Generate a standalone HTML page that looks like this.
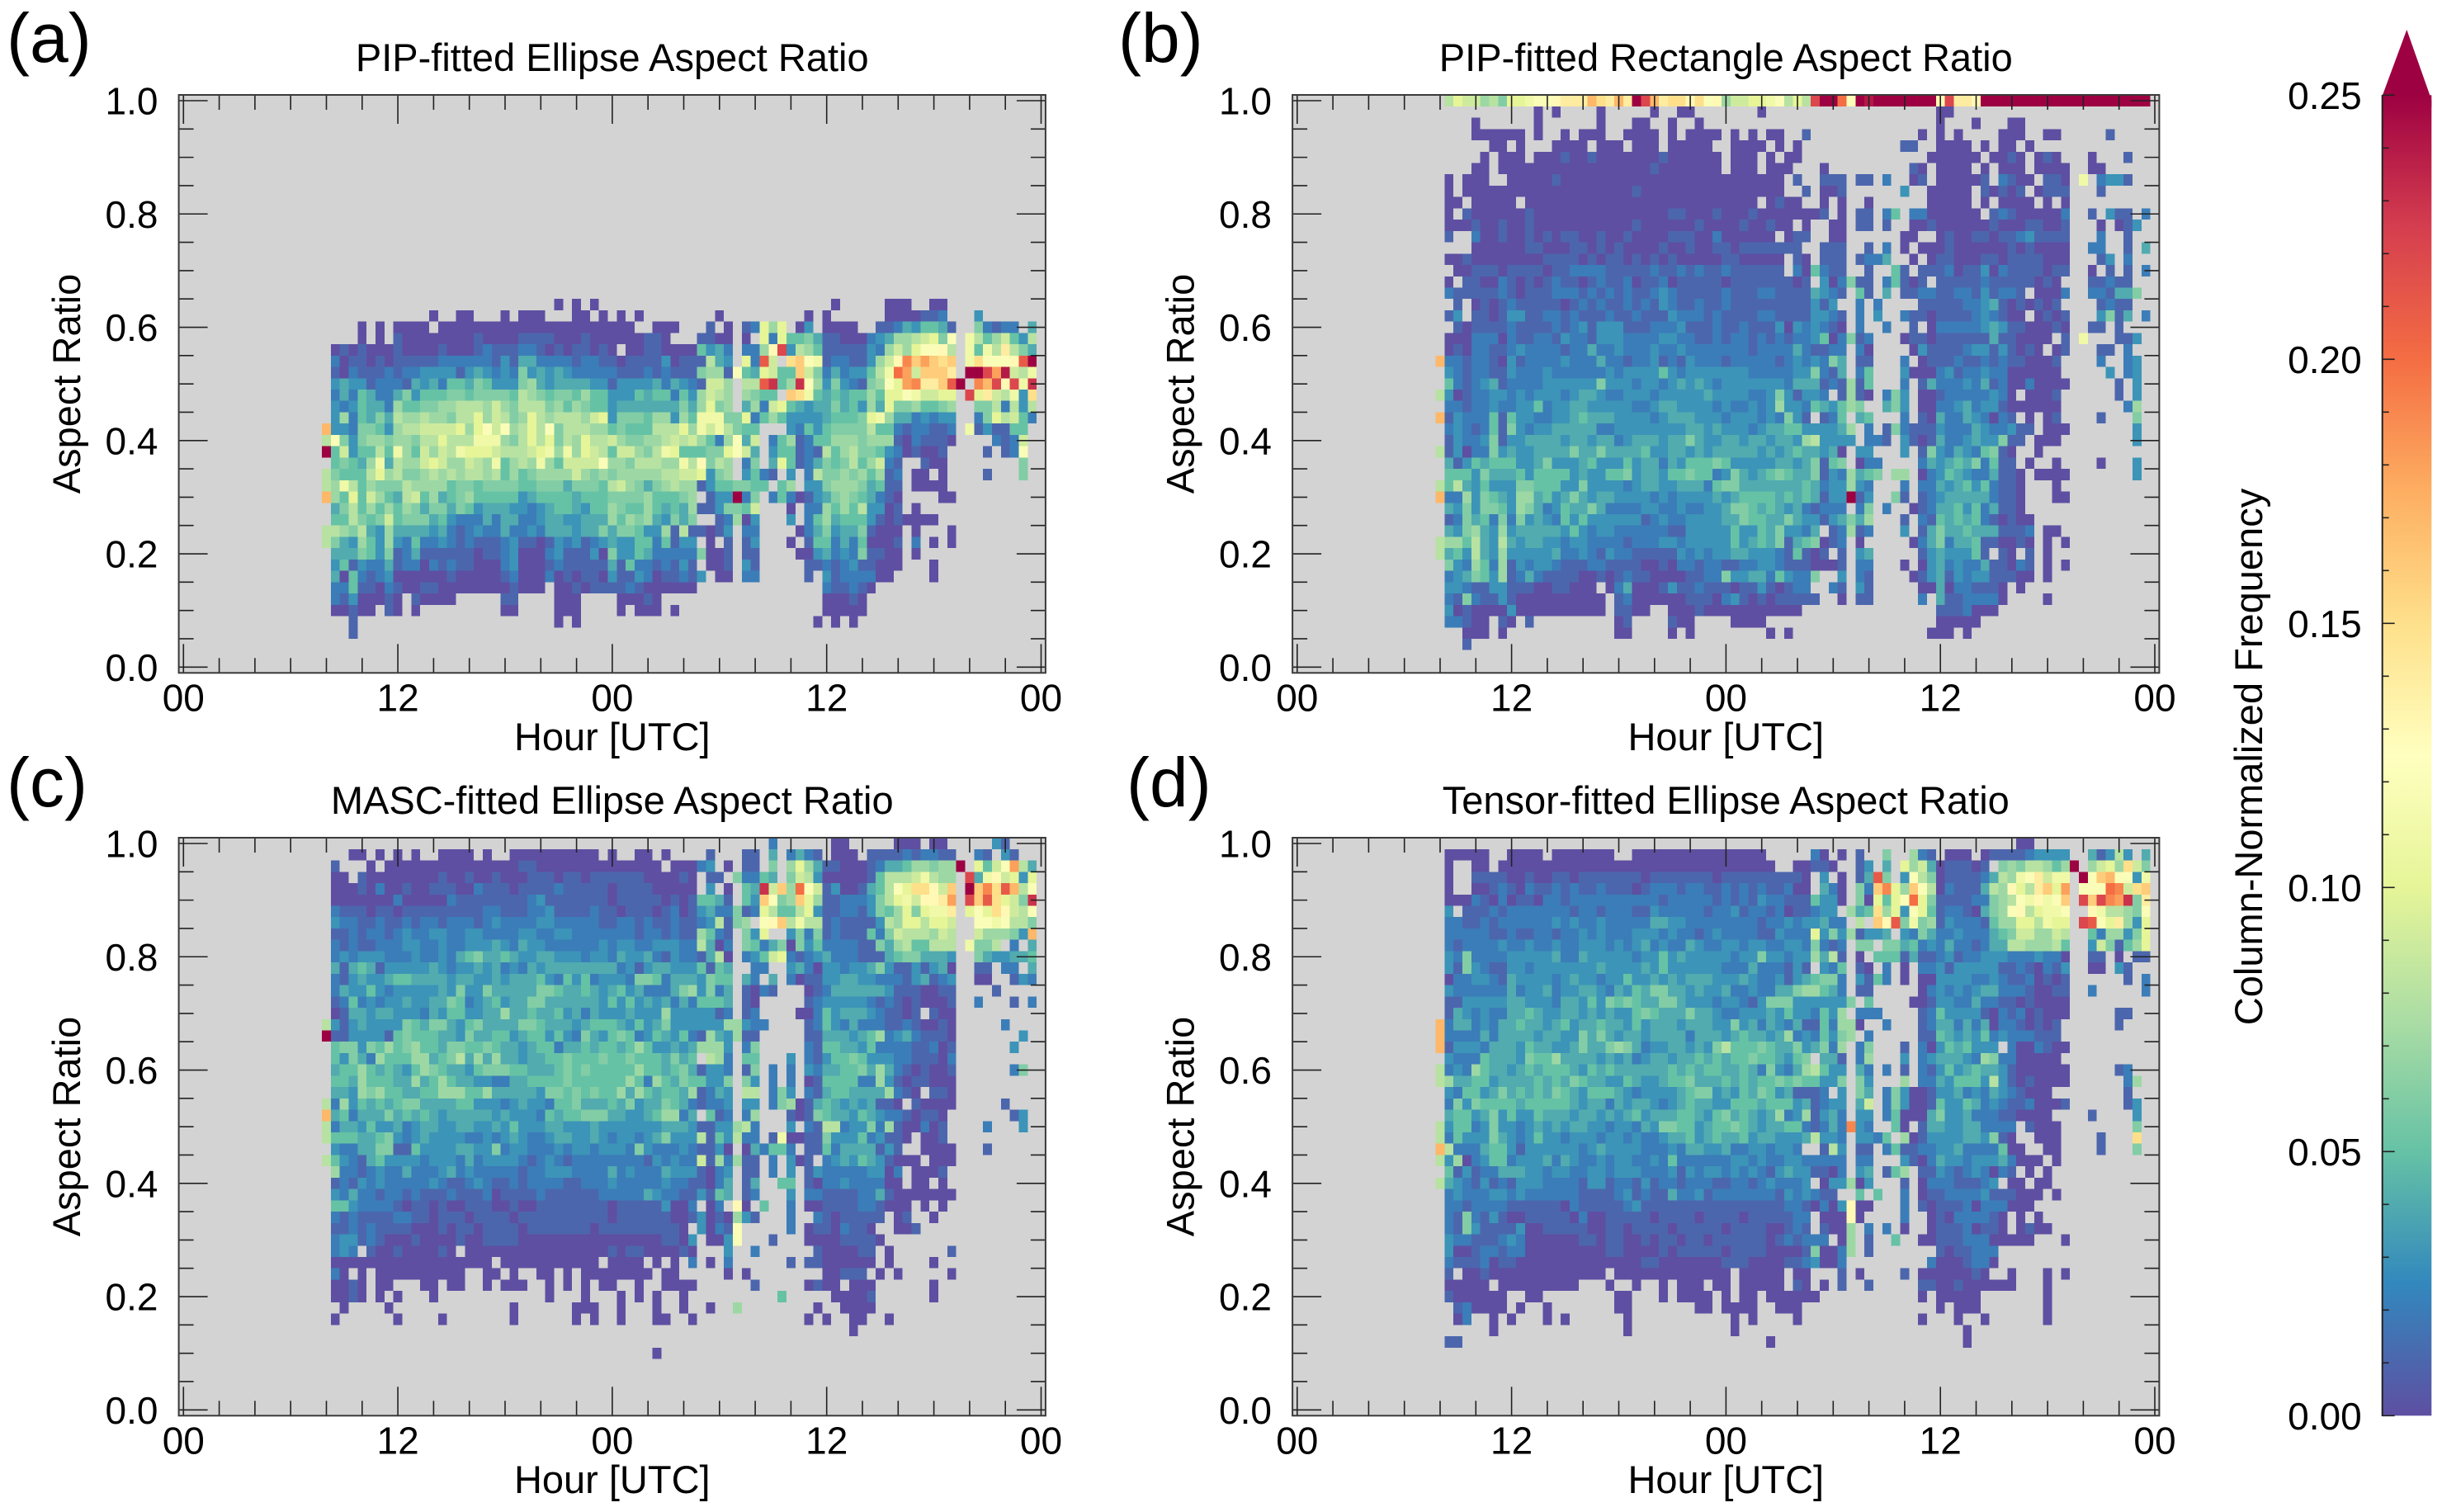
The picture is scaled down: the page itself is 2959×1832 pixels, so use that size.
<!DOCTYPE html>
<html lang="en">
<head>
<meta charset="utf-8">
<title>Aspect Ratio Frequency Panels</title>
<style>
html,body{margin:0;padding:0;background:#fff}
svg{display:block}
text{font-family:"Liberation Sans",sans-serif;fill:#000}
.tick-label{font-size:46px}
.axis-title{font-size:47px}
.panel-tag{font-size:84px}
</style>
</head>
<body>
<svg id="figure" xmlns="http://www.w3.org/2000/svg" width="2959" height="1832" viewBox="0 0 2959 1832">
  <defs>
    <linearGradient id="spectral-gradient" x1="0" y1="1" x2="0" y2="0">
      <stop offset="0" stop-color="#5e4fa2"/><stop offset="0.1" stop-color="#3288bd"/><stop offset="0.2" stop-color="#66c2a5"/><stop offset="0.3" stop-color="#abdda4"/><stop offset="0.4" stop-color="#e6f598"/><stop offset="0.5" stop-color="#ffffbf"/><stop offset="0.6" stop-color="#fee08b"/><stop offset="0.7" stop-color="#fdae61"/><stop offset="0.8" stop-color="#f46d43"/><stop offset="0.9" stop-color="#d53e4f"/><stop offset="1" stop-color="#9e0142"/>
    </linearGradient>
  </defs>
  <rect width="2959" height="1832" fill="#fff"/>
  <g id="panels"></g>
  <g id="colorbar">
    <polygon points="2886.7,116 2916.3,36 2946.3,121 2946.3,130 2886.7,130" fill="#9e0142"/>
    <rect x="2886.7" y="115.3" width="59.6" height="1600" fill="url(#spectral-gradient)"/>
    <line x1="2886.7" y1="115" x2="2886.7" y2="1716" stroke="#222" stroke-width="2"/>
    <text class="axis-title" transform="translate(2741,917) rotate(-90)" text-anchor="middle">Column-Normalized Frequency</text>
  </g>
</svg>
<script>
// ---- chart data ----
const hourTicks = [0, 12, 24, 36, 48];
const hourTickLabels = ['00', '12', '00', '12', '00'];
const ratioTicks = [0, 0.2, 0.4, 0.6, 0.8, 1.0];
const ratioTickLabels = ['0.0', '0.2', '0.4', '0.6', '0.8', '1.0'];
const colorbarTicks = [0, 0.05, 0.10, 0.15, 0.20, 0.25];
const colorbarTickLabels = ['0.00', '0.05', '0.10', '0.15', '0.20', '0.25'];
const panelTitles = ['PIP-fitted Ellipse Aspect Ratio', 'PIP-fitted Rectangle Aspect Ratio', 'MASC-fitted Ellipse Aspect Ratio', 'Tensor-fitted Ellipse Aspect Ratio'];
const panelTags = ['(a)', '(b)', '(c)', '(d)'];
// Heatmap frequency per cell, base-36 in hundredths (p = 0.25); rows run from ratio 1.00 down to 0.00;
// each space-separated group is ten half-hour columns, starting at hour 8; "." = no data.
const pipEllipseRows = [
"","","","","","","","","","","","","","","","","","",
". . ......0.0. 0 . .......0.. ...000..00",
". ..0..00... 0.000...00 .0.0.0.... ....0..... ....0.0... ...0000112 ...3......",
"....0.0.00 00.0000000 0000000000 00000..000 ...1.0.12a 7a.03.0000 ..11243554 1..62122.4",
"....0.0.10 0000000100 0011110001 000000110. ..1100.0.a 2a55641100 02347789a6 c.b8579538",
".010100010 0001000121 1122101011 010.001100 005342.227 dm38751111 132797accd 8.b5b8e864",
".201101011 1112222221 3144222212 2110111130 111843.a2l 9.fgcb1221 1379djgigf g.bfcccdlp",
".102111212 2333313432 3263434322 2221112121 116771c54a 955g962423 358bki9ggg e.ppmio98b",
".343312221 4342554653 3367434444 3313333424 321997.88l n57nc73632 167caijeeg lp.jhmdmbn",
".242542246 3555665666 6587656657 5533354552 537987.765 5.gfb54545 575aacb99a a.mae98b3f",
".323544275 5667788879 7688867576 5534444444 647a67.472 9a54344645 374a667556 7..6682838",
".372546487 7877688a79 867a878887 9a36665773 75bbb66a25 7533334555 6ab7442323 3..26a8952",
"h332665378 89999a7ac9 c78a8c6888 7756555888 a7b9b8655. ..32535666 6855212211 2.b131155.",
"8c63677677 688a888bbb 768a8a687a 8897667789 897527c49. 2571255777 6777102111 0....2129.",
"p5935585b7 59798baaa9 8889ab7b7a 98599768ba 55566ac94. 3551218578 6653201001 ....1.12c.",
".56547b487 79a977987b 5787b75999 9c77688877 b8d687.26. 4a51246568 57921..100 ........6.",
"865558a786 6787878878 5756777797 6767777788 99a367.352 1.3.286676 75712.00.0 ....1...6.",
"87b8576668 7777566566 6655666466 6589764678 7713556655 .57.336777 64511.0000",
"h75a597548 9574567555 5534555545 5566667555 67.133p26. 2520134676 54210....0 0",
".468575757 6466465344 4332345543 5576557545 471136659. ..0.227575 83301.0...",
".558656956 6645322242 4422344334 4475767436 46..12703. ..3.257455 531010000.",
"8876843744 4434212322 4223244434 4646653371 811013.22. ...0246344 61000.0... 0",
"8643753732 5223212111 2311013231 2343355251 33.0.1.13. ..0.155242 50001.2.0. 0",
".444653612 4111111011 2300023111 3063354222 226001.11. ...0034232 61100.0...",
".351322412 2021211000 2300012111 1141522121 31.001.31. ....112123 11000...0.",
".405212300 0000100000 1200020101 1031132011 213.00.22. ....1.3122 2200....0.",
".225110210 0110000000 01000.0010 1111210000 00 ......2112 10",
".21300010. 10000 11....000. ...00010 . ......0001 0",
".00100.10. 0 00....000. ...0.000.0 . ......0000 0",
"...1 . ......0.0. . . .....0.0.0",
"...1",
"","",""
];
const pipRectangleRows = [
".8a99786aa bccdeeehfe hepmheffdf cd799aabc8 a8mppkcpop ppppppdmee dppppppppp pppppppppp",
". .0.0....0. ....0..00. ......0 . ......00",
"....0 .0......0. ..00..0..0 . . ......0 0...00",
"....000000 .0..0.000. .0000.0.00 00.0.0.00. .1 ....0.0.0. ...000..00 .....1",
"......00.0 ...0000.00 0.000.0000 0..0000.0. 0 ..11..0000 .0.00.0",
".....0.000 .000100100 0000010000 00.000.0.0 0 .....00000 0.0010.010 ...0...1",
"....00.000 0000000000 0000100000 00.000.000 ...0 ...10.0000 .0.000.000 0..00",
".0.000..00 0001000000 0000000000 000000000. 1..111.11. 2..01.0000 01.2100.11 0.b.2331",
".0.0000000 0000000000 0010000000 000000000. .1.001 ..3..00000 .10101.011 1...1",
".00.00000. 0000000000 0000000000 000000.010 0..0.0..0. .....00000 .0.0000.0. 0",
".0.1000000 1000000000 0000001100 0100010000 0001.0.11. 25.2200000 0.12100000 2..1.311.2",
".000100100 1000000000 0010000001 0000100100 .0..00.11. 1..0010000 0010001100 1...0.013.",
".1..200100 1010110010 0100001110 02000000.0 11..00 ..00..0100 1101123111 1...2..1",
"....000000 1100011010 1000010010 0110111111 1..111..1. 2.0.000100 0000101000 0..22..1.4",
".001000000 0011110101 1010101000 001100000. 10.111.122 4..0.01100 0110111100 0...13.2",
"..00111011 1101122221 1111211212 112111111. 205211..1. .51.111201 1302111101 1..0.1.1.2",
".0.1100210 1012110121 1201120111 1101111111 01.302611. 25101.1111 1211111010 ...11211",
".211111210 1112221212 1211232111 1121112211 114321.51. 4.11221122 131221.000 2..221446.",
"..1.010121 1111012121 1212132112 1121111111 11313..2.2 ....111112 2341010101 ....1211",
".13.110133 1122121112 1121113222 1211112211 113321.2.3 ..21101111 232100.010 1...3614.2",
"..10111121 1112123133 3111222311 1211211130 323210.2.. 2..1.02222 2343110001 0..11.1",
".000222021 1221322133 3222233221 1212212121 223502612. ..01101111 114110000. 1.b...113.",
".010221123 2222122422 3222322322 2222212222 421122.20. ...0311112 33131010.0 1...11.2",
"h221221031 2222322242 2122312132 2212222212 323264.11. ..2.011121 1212110001 ....2..23.",
".321221132 2232222223 2333353233 3333322222 336214.25. ..30002312 2322000000 .....3.23.",
".521234122 2233333363 3323323434 3233333332 444121715. ..2.142223 2412002000 0.....1.3.",
"8301223323 2333234432 2333233333 4333322363 1332.1710. 263.001222 22320.0001 ......1.3.",
".221223223 3523344333 3322344333 3232232373 32543576.. 463.002234 2331000000 .......27.",
"h132225153 3223345444 3333234443 3323332326 31.125.45. ..2.104224 32021.0.01 ....1...6.",
".232125163 2334444422 3333333344 3433323445 5333347.2. 1621113222 4322311.00 0.......3.",
".132236133 4444344344 2344434464 3344344344 3783333.22 1.31014223 433611.000 ........3.",
"8130226343 3444464464 4445334434 3444443434 544340.33. ..3.163243 25610..0..",
".413545553 3463334533 3534424355 5653333344 346156.022 ....243454 62511.0..0 ....0...3.",
".555364445 3555534335 5634435565 5236434565 4461327456 .77.023543 224110.000 0.......3.",
"8584353336 6555336333 3234433444 2566444444 454233732. ..2.224345 352110...0",
"h227365437 7453464344 3333232333 3434555545 454133p13. .61.123444 442110...0 0",
".436366537 6423544642 2223322322 3346654543 421222.26. 2..0124453 524110",
".126452626 3432535333 3331232233 3344655446 433134647. ..1.215454 5210100",
".436743734 4444353233 2222221133 3335335463 324.12712. ..3.146445 4441112.00",
"8775843843 4433233222 2122233233 3335345461 456012.0.. ...0246244 5110010.0. 0",
"8453843733 3334223213 2211111323 2334433321 5101.1.34. ....134333 51.10.1.0.",
".632752713 2332111221 1110010221 2211223321 110001.22. ..0.034232 2411021.0. 0",
".234653712 4211110010 1211000011 2263344253 226..3.21. ...0134132 3311100.0.",
".332113311 10011000.0 2400013112 1110113101 22..21.31. ....004022 1110.0",
".216211310 000000000. 1200000011 1023101011 111..0.11. ....2.4112 2220....0.",
".301000030 000000000. 1100..0001 0000000000 0 ......1112 000",
".22100.10. 1 01....100. ...0000 . ......0000 0",
"...000.0 . 00....0.0. .......0.0 . .....000.0",
"...1",
"",""
];
const mascEllipseRows = [
". . . . . 2......00. ....000.00 .....31",
"...00.0.0. 0..0000.0. .000000000 0.0..00.0. ...1...11. 4.2421.000 .111121221 1..21.31",
".1...0.000 0000000000 0011000000 00000000.0 0023.0.11. 6.7a741100 0124457767 7p.a59ci84",
".00.100000 0001001001 0001110110 1111110000 10.11.6225 4.69830000 0158889b87 7.m4bd9a3a",
".000102001 0011100211 1011112111 1101111000 00.3.0.54n 9g7kc91300 1458caffd9 g.pgjflh8c",
".000000020 0000211111 1112311111 1101111101 015541.53g c67ga71122 2368ab9dde i.mglfa96n",
".211101101 1111111122 1112231111 2110111012 013422612a 8558a31122 13657a6abb e.acafd98c",
".322112112 1221222123 2222332222 2112212112 11238167.c dg8b881211 11387aa8aa 9..ccbc886",
".112122123 2233223322 2233223322 2222212212 117521.63a ..36261211 1526988879 8..977763h",
".212112223 3223223334 3243322222 2323322333 228402.652 4606352222 1164785588 8.b668.2.4",
".232333222 3223245644 5433443332 3324334213 221480.235 9a21234222 1114566444 3..6433445",
".414541333 3343233434 2324344444 4442313443 335154..22 ..34203323 3463113134 0..11.22.4",
".213433455 4444344334 3444532535 2333266524 443655.42. 4.20113344 3322213412 3..00..132",
".243353233 3334363364 4444665445 4345342224 673624.102 1...012444 4443111001 1....1",
".125232334 3344652345 3446644444 4353534342 425554.10. ....123333 3212101000 1..2...1.2",
".014434433 3243553344 7445445342 4333433373 333312.12. ...0025344 4321101.10 0",
"8313433336 5466435644 4466544434 5554353463 3333377322 ....125324 2221121001 0.....2",
"p113333156 5554436445 5345535326 4356523543 521743711. ....114443 4572342111 0.......3.",
".566365756 7554665565 4434552445 4554575334 347773.26. ....215544 3522221120 1......3",
".536427555 7745684747 4434455655 5655655546 45.872.55. ..3.213556 5333221110 2",
".455754543 5765443566 6554445656 5555575545 641332.16. 2.2.324455 6474210100 1......26.",
".554755544 7457544332 2445555655 5555752754 655336.63. 2.2.015555 2273101100 0",
".443767554 4557775574 4444366565 6557475455 471243.88. 263.214554 4447210.11 0",
"8273545456 6444455333 2343325564 4454634465 421223.33. 2670145434 34110.1000 0.....1",
"h452444645 4543444443 4333254556 6644334577 24.512.27. ..10165443 5432210110 .......13.",
"8244353342 3443344334 3533344333 4333333344 431133782. ..3.218823 3627100201 ....2...3.",
"8555445632 3433332232 3432234433 4323323463 338153822. 1b00116333 523110.001",
".322446611 5333344336 2332223233 2333263222 321130.042 552.115244 44131..000 0...1",
"8532145333 3233324233 3321232122 2222221323 229172711. 2.301.2343 5431000.00 0",
".722123224 2223423222 2212233322 2242322243 331023.11. 2.3.132222 23302.0001",
".121323222 2232112321 1212222112 2232222232 211024.14. .55.102232 22200.00.0",
".324221221 2111211120 1111211111 1222224322 113154.12. ..3.221111 2241000000 0",
".553222210 1101001110 0100111111 1101111130 02.02.d0.5 ..2.001111 221000.0.0",
".212111122 1101110111 1011111111 1101111110 013010731. ..2..21011 111.01..0.",
".112121111 0001011011 1101111111 0111111111 0.3021c... ..2.011021 10..001",
".233121000 1000010011 1100000000 0000000011 03.003c... 1...000011 110",
".232.10010 00010.0000 0000000000 0010110000 10...3..2. .....10000 11.0 1",
".000000000 000000000. 0000000000 0.0000.0.0 .2.0.2 ..1.110000 00.0....0.",
".20.0.0000 000000..00 .0..00.0.0 0000000.00 .....0.0 ......0011 1.0.0 0",
".0010.00.. .00.00..0. 000..0.0.0 .00..0..00 00......1. ....0100.0 00......0.",
".0010.0.0. ..0 .....0...0 ...0.0.0 0 .5.....000 01......0.",
"..0....0 . .0......00 0..0...0 0..0..7 .....0..00 00",
".0......0. ...0 .0......0. 0..0...00. .0 ....0.0..0 0..0",
". . . . . .........0",
"",
". . . .......0",
"","","","","",""
];
const tensorEllipseRows = [
". . . . . . .....00",
".00000..00 00.0000000 ..00000000 0000000 ..20.0.1 6..721.000 .011112333 3..41383.4",
".0..00.000 0000000000 0000000000 00000000 00110..13. 4.a7940111 01.6768875 7p.79a7f96",
".0..111100 1001101111 1110111111 1011111111 10.3.0.14l 6.3c860111 12487bce9b b.pcghcc3b",
".0..001210 2112121121 1101222122 1121212112 00.420.62g ja7gc80211 1487da8ega i.ccckj9fg",
".000210201 1022122222 2222212222 2121213221 115330.60a 5acka61111 22678cbdbc g.mgmjin6e",
".3.1112122 2222212212 2211322222 1223122120 11233.745f 7a3ca51221 0467cd8abb c..db8876c",
".221121222 2223232232 2222443322 2222221223 233422.8.g dl6b671322 21577aa8ba a.mlcae73a",
".222221121 1221223232 2233323221 2322221132 22a3637133 4.32642232 2245699779 8..527736a",
".212222322 3223223332 3234232243 2233233223 326212.66. 6645232422 1244887778 5..396157a",
".326222233 3334224333 3323353433 3332336332 337481.0.5 5514112312 2333222322 0..11.0.11",
".316321133 2333333343 3334353333 3322242221 31.325.10. 2.0.223133 3331121021 3..00.31",
".022332143 3332343323 3533434344 4333432231 345662.315 2.0.003333 2232112010 1......1.2",
".322222242 3342334432 4354664434 3342232244 677542.11. ....023232 3442221001 1..2.....2",
".113333344 3332443536 5654466433 3233213666 3333336.5. ...0013322 4221101000 0",
".143232244 5433443434 3356544464 4322333435 332537.222 ....125333 3102120100 0.....11",
"h244232445 4434534454 4353444344 4336342432 41152770.. 2...124424 2402210101 ......1",
"h222242444 4344336464 3443444424 4434544347 2325367.2. ....115434 3523222111",
"h133324443 5443346446 7642334434 3685556544 634627.26. ..1.203545 333.200210 0",
".322254443 6557444434 3423443445 4545565543 56.441.27. ..3.234443 2762200000",
"8232754434 5455543545 4444445454 5544542632 478533.42. 2.1.213534 5443100000 0.....12",
"8744553444 4545465443 3543345564 4454545565 655336.63. ..7.224355 5383101000 0......27.",
".325534645 4546543555 4323333456 6343546534 1112.3.64. 2630013342 324321000. .......1",
".263655554 5555543442 4344323454 4335554555 341233.49. 2630015335 4232112000 1......13.",
".455346353 3544434434 3453444554 3564543472 371342.33. 2500046334 222110000. ...1....3.",
"8355236332 3434344332 3324366553 4556543445 521242j32. .50.144334 42222.1000 ........6.",
"8253336432 3533233323 3232234453 4544534433 348332.332 5.70133334 43610..000 ....1...f.",
"h822245531 3333332343 3332223244 3342233233 2..183.11. 2511223342 222500..00 ....1...6.",
"8370235523 3342432232 3322325222 2223323223 322222.22. ..31024332 33342000.0",
".513122444 3323322332 3332223132 3323232134 331102.34. 157.113212 32021.0.0.",
"8432131213 3322221331 2213122122 2112212322 23.033703. ..1.022211 123.00.00.",
".232223323 2222221111 2312114223 1222222213 23211..5.5 ..2.011222 23111000.0",
".221222211 1111021111 1231111111 1111111112 210203d00. ..2.101112 0222000",
".216213100 1111102001 1111011110 1111011111 22.000d0.. ..2..01022 2210.0.0",
".216311113 0011111001 1011110111 1101111001 21.1007.2. 2.0..01112 0110.0100.",
".322111232 0000001101 1001011011 0111111012 1222.07.1. .5..001112 2200000 0",
".300122122 0000000001 1000010111 1101111000 0160027.1. ......1011 222",
".211120110 0000000000 0001100000 0011100001 123002 .....20001 220",
".1.0010000 000000000. 0000000000 000.00000. 00...1.0 ..1.000000 10..0...0. 0",
".00000.000 000000...0 ..0..0.000 .00.00000. 10.0.1..1. ....110010 00000...0.",
".1000000 00 00...0.000 0.0.00.000 000 ....0.0000 0.......0.",
"..120000.0 ..0 00.......0 0.0000..00 0 ......0.00 0.......0.",
"..02..0.0. ..0.0 .0 ...0.0 0 ....0...0. .0......0.",
"......0 . .0 ...0 . .........0",
".11 . . .......0 . .........0",
"","","","","",""
];
// ---- end chart data ----

const panelRowSets = [pipEllipseRows, pipRectangleRows, mascEllipseRows, tensorEllipseRows];
const SVGNS = 'http://www.w3.org/2000/svg';
const hourPx = 21.65, ratioPx = 686.3;
const spectral = ['#5e4fa2','#3288bd','#66c2a5','#abdda4','#e6f598','#ffffbf','#fee08b','#fdae61','#f46d43','#d53e4f','#9e0142'];
const firstColumn = 16, topRow = 50;

function hexToRgb(h){return [1,3,5].map(i=>parseInt(h.substr(i,2),16));}
function colorFor(v){
  const t = Math.max(0, Math.min(1, v / 0.25)) * 10;
  const i = Math.min(9, Math.floor(t));
  const f = t - i;
  const a = hexToRgb(spectral[i]), b = hexToRgb(spectral[i+1]);
  return 'rgb(' + a.map((c,n)=>Math.round(c+(b[n]-c)*f)).join(',') + ')';
}
function make(tag, attrs, parent){
  const el = document.createElementNS(SVGNS, tag);
  for (const k in attrs) el.setAttribute(k, attrs[k]);
  parent.appendChild(el);
  return el;
}

const panelsRoot = document.getElementById('panels');
const offsets = [[0,0],[1349.5,0],[0,900],[1349.5,900]];

offsets.forEach(function(off, p){
  const x0 = 222.3 + off[0], y0 = 808.3 + off[1];
  const xScale = h => x0 + h * hourPx;
  const yScale = r => y0 - r * ratioPx;
  const left = xScale(-0.263), right = xScale(48.25), top = yScale(1.0102), bottom = yScale(-0.0102);
  const g = make('g', {}, panelsRoot);
  
  

  const bg = make('rect', {x:left, y:top, width:right-left, height:bottom-top, fill:'#d3d3d3'}, g);
  
  

  const cells = make('g', {'shape-rendering':'crispEdges'}, g);
  
  
  panelRowSets[p].forEach(function(row, idx){
    if (!row) return;
    const k = topRow - idx;
    row.split(/\s+/).forEach(function(group, gi){
      Array.from(group).forEach(function(ch, j){
        if (ch === '.') return;
        const value = parseInt(ch, 36) * 0.01;
        const col = firstColumn + gi * 10 + j;
        const xa = xScale((col - 0.5) * 0.5), xb = xScale((col + 0.5) * 0.5);
        const ya = Math.max(top, yScale((k + 0.5) * 0.02)), yb = yScale((k - 0.5) * 0.02);
        const cell = make('rect', {x:xa.toFixed(2), y:ya.toFixed(2), width:(xb-xa).toFixed(2), height:(yb-ya).toFixed(2), fill:colorFor(value)}, cells);
        
        
      });
    });
  });

  const ticks = make('g', {stroke:'#222', 'stroke-width':'1.6'}, g);
  
  
  for (let h = 0; h <= 48; h += 2) {
    const major = h % 12 === 0, len = major ? 35 : 18, x = xScale(h);
    const t1 = make('line', {x1:x, x2:x, y1:top, y2:top+len}, ticks);
    
    
    const t2 = make('line', {x1:x, x2:x, y1:bottom, y2:bottom-len}, ticks);
    
    
  }
  for (let n = 0; n <= 20; n++) {
    const major = n % 4 === 0, len = major ? 35 : 18, y = yScale(n * 0.05);
    const t1 = make('line', {x1:left, x2:left+len, y1:y, y2:y}, ticks);
    
    
    const t2 = make('line', {x1:right, x2:right-len, y1:y, y2:y}, ticks);
    
    
  }

  const frame = make('rect', {x:left, y:top, width:right-left, height:bottom-top, fill:'none', stroke:'#3a3a3a', 'stroke-width':'2'}, g);
  
  

  hourTicks.forEach(function(h, i){
    const t = make('text', {x:xScale(h), y:861.7+off[1], 'text-anchor':'middle', class:'tick-label'}, g);
    
    
    t.textContent = hourTickLabels[i];
  });
  ratioTicks.forEach(function(r, i){
    const t = make('text', {x:191.5+off[0], y:yScale(r)+16.5, 'text-anchor':'end', class:'tick-label'}, g);
    
    
    t.textContent = ratioTickLabels[i];
  });

  const title = make('text', {x:(left+right)/2, y:86+off[1], 'text-anchor':'middle', class:'axis-title'}, g);
  
  
  title.textContent = panelTitles[p];

  const xt = make('text', {x:(left+right)/2, y:909+off[1], 'text-anchor':'middle', class:'axis-title'}, g);
  
  
  xt.textContent = 'Hour [UTC]';

  const yt = make('text', {transform:'translate(' + (97+off[0]) + ',' + (465+off[1]) + ') rotate(-90)', 'text-anchor':'middle', class:'axis-title'}, g);
  
  
  yt.textContent = 'Aspect Ratio';

  const tagX = [8, 1355, 8, 1365][p];
  const tagY = off[1] === 0 ? 75 : 977;
  const tag = make('text', {x:tagX, y:tagY, class:'panel-tag'}, g);
  
  
  tag.textContent = panelTags[p];
});

// colorbar ticks and labels
const cbRoot = document.getElementById('colorbar');
const cbY = v => 1715.3 - v * 6400;
for (let n = 0; n <= 25; n++) {
  const major = n % 5 === 0;
  const line = make('line', {x1:2886.7, x2:2886.7 + (major ? 15 : 8), y1:cbY(n*0.01), y2:cbY(n*0.01), stroke:'#222', 'stroke-width':'1.6'}, cbRoot);
  
  
}
colorbarTicks.forEach(function(v, i){
  const t = make('text', {x:2861.7, y:cbY(v)+16.5, 'text-anchor':'end', class:'tick-label'}, cbRoot);
  
  
  t.textContent = colorbarTickLabels[i];
});
</script>
</body>
</html>
